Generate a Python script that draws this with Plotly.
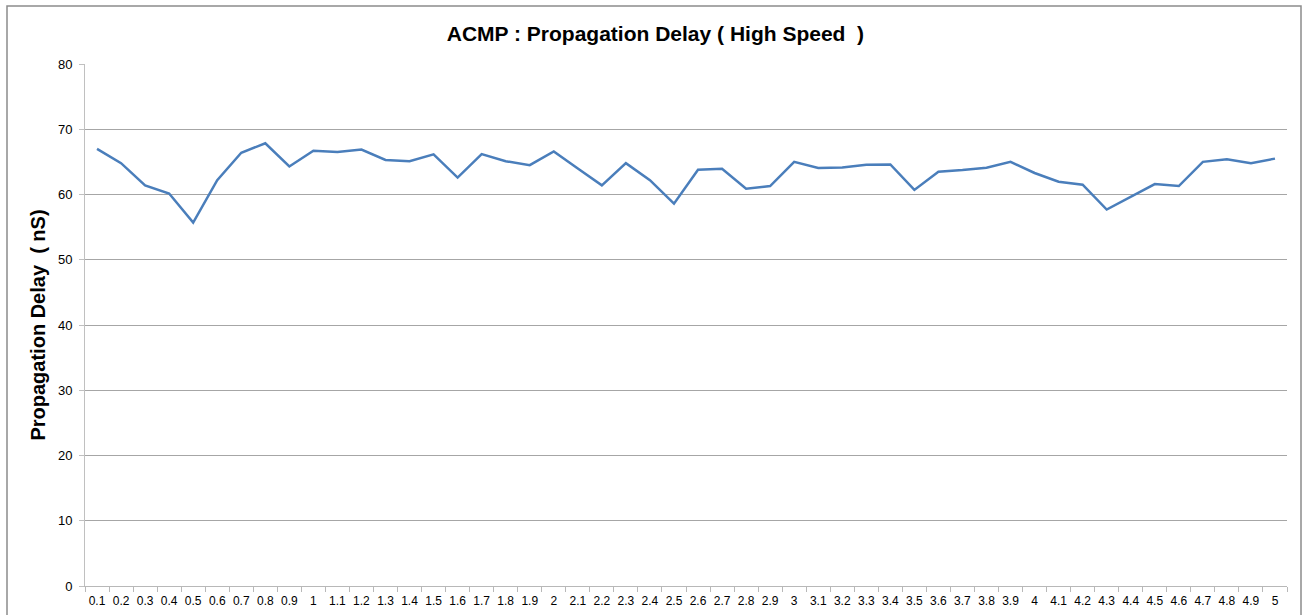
import plotly.graph_objects as go

categories = ["0.1","0.2","0.3","0.4","0.5","0.6","0.7","0.8","0.9","1",
              "1.1","1.2","1.3","1.4","1.5","1.6","1.7","1.8","1.9","2",
              "2.1","2.2","2.3","2.4","2.5","2.6","2.7","2.8","2.9","3",
              "3.1","3.2","3.3","3.4","3.5","3.6","3.7","3.8","3.9","4",
              "4.1","4.2","4.3","4.4","4.5","4.6","4.7","4.8","4.9","5"]
delay_ns = [67.0, 64.8, 61.4, 60.15, 55.7, 62.2, 66.4, 67.85, 64.3, 66.7,
            66.5, 66.9, 65.3, 65.1, 66.15, 62.6, 66.2, 65.1, 64.5, 66.6,
            64.0, 61.4, 64.8, 62.2, 58.6, 63.8, 63.95, 60.9, 61.3, 65.0,
            64.05, 64.15, 64.55, 64.6, 60.7, 63.5, 63.75, 64.1, 65.0, 63.3,
            61.95, 61.5, 57.7, 59.7, 61.6, 61.3, 65.0, 65.4, 64.8, 65.5]
y_ticks = [0, 10, 20, 30, 40, 50, 60, 70, 80]

FONT = "Liberation Sans, Arial, Helvetica, sans-serif"

fig = go.Figure()
fig.add_trace(go.Scatter(
    x=categories, y=delay_ns, mode="lines",
    line=dict(color="#4a7ebb", width=2.5),
    showlegend=False,
))

fig.update_layout(
    width=1303, height=615,
    margin=dict(l=85, r=16, t=64, b=29),
    paper_bgcolor="white", plot_bgcolor="white",
    font=dict(family=FONT, size=12, color="black"),
    title=dict(
        text="<b>ACMP : Propagation Delay ( High Speed  )</b>",
        x=0.503, xanchor="center", y=0.946, yanchor="middle",
        font=dict(family=FONT, size=21, color="black"),
    ),
    xaxis=dict(
        type="category",
        automargin=False,
        showgrid=False,
        showline=True, linecolor="#b8b8b8", linewidth=1,
        ticks="outside", tickson="boundaries", ticklen=5, tickcolor="#b8b8b8",
        tickangle=0, ticklabelstandoff=4,
        tickfont=dict(size=12, color="black"),
        range=[-0.5, len(categories) - 0.5],
    ),
    yaxis=dict(
        automargin=False,
        range=[0, 80],
        tickvals=y_ticks,
        showgrid=True, gridcolor="#a6a6a6", gridwidth=1,
        showline=True, linecolor="#c0c0c0", linewidth=1,
        ticks="outside", ticklen=5, tickcolor="#c0c0c0",
        ticklabelstandoff=4,
        tickfont=dict(size=13, color="black"),
        zeroline=False,
        title=dict(text="<b>Propagation Delay  ( nS)</b>",
                   font=dict(family=FONT, size=20, color="black"),
                   standoff=6),
    ),
)

# outer chart border
fig.add_shape(type="rect", xref="paper", yref="paper",
              x0=(7 - 85) / 1202, x1=(1301 - 85) / 1202,
              y0=(586 - 630) / 522, y1=(586 - 6) / 522,
              line=dict(color="#8c8c8c", width=1.5), layer="below")

fig.write_html("out.html",
               config={"displayModeBar": False},
               post_script="document.body.style.margin='0';document.body.style.padding='0';")
